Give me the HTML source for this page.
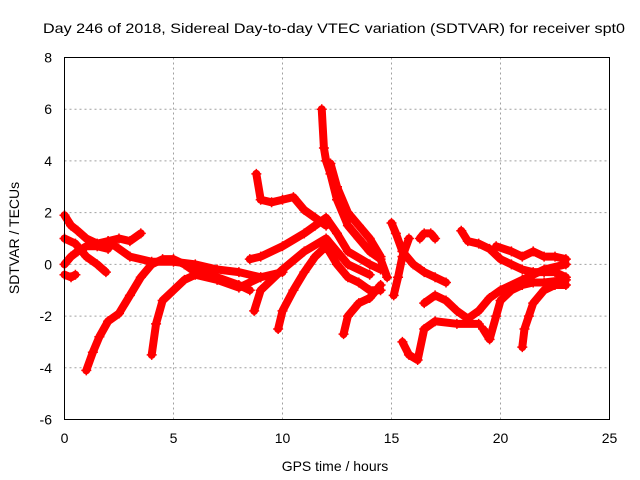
<!DOCTYPE html>
<html><head><meta charset="utf-8"><style>
html,body{margin:0;padding:0;background:#fff;}
svg{display:block;font-family:"Liberation Sans",sans-serif;}
</style></head><body>
<svg id="chart" width="640" height="480" viewBox="0 0 640 480" xmlns="http://www.w3.org/2000/svg">
<text x="334" y="33" font-size="14" text-anchor="middle" textLength="582" lengthAdjust="spacingAndGlyphs">Day 246 of 2018, Sidereal Day-to-day VTEC variation (SDTVAR) for receiver spt0</text>
<g id="grid"></g>
<g id="ticks"></g>
<g id="series"></g>
<rect x="64.5" y="57.5" width="545" height="362" fill="none" stroke="#000" stroke-width="1"/>
<text x="335" y="471" font-size="14" text-anchor="middle">GPS time / hours</text>
<text x="0" y="0" font-size="14" text-anchor="middle" transform="translate(19,238) rotate(-90)">SDTVAR / TECUs</text>
</svg>
<script>
const xTicks=[0,5,10,15,20,25];
const yTicks=[-6,-4,-2,0,2,4,6,8];
const tracks=[
[[0,1.9],[0.3,1.5],[0.6,1.3],[1,1.0],[1.5,0.8],[2,0.9],[2.5,1.0],[3,0.9],[3.5,1.2]],
[[0,0],[0.3,0.3],[0.6,0.5],[1,0.7],[1.5,0.7],[2,0.6]],
[[0,-0.4],[0.3,-0.5],[0.5,-0.4]],
[[0,1],[0.5,0.8],[1,0.3],[1.5,0],[1.9,-0.3]],
[[1,-4.1],[1.3,-3.4],[1.6,-2.8],[2,-2.2],[2.5,-1.9],[3,-1.2],[3.5,-0.5],[4,0],[4.5,0.2],[5,0.2],[5.5,0],[6,-0.3],[7,-0.5],[8,-0.8],[8.5,-1]],
[[4,-3.5],[4.2,-2.3],[4.5,-1.4],[5,-1],[5.5,-0.6],[6,-0.4],[7,-0.6],[8,-0.9],[9,-0.5]],
[[2,0.9],[3,0.3],[4,0.1],[5,0.1],[6,0],[7,-0.2],[8,-0.3],[9,-0.5],[10,-0.3]],
[[8.7,-1.8],[9,-1],[10,-0.2],[11,0.5],[12,1],[12.5,0.5],[13,0],[14,-0.4]],
[[8.8,3.5],[9,2.5],[9.5,2.4],[10,2.5],[10.5,2.6],[11,2.1],[11.5,1.8],[12,1.5]],
[[8.5,0.2],[9,0.3],[10,0.7],[11,1.2],[11.5,1.5],[12,1.8],[12.5,1.2],[13,0.5],[14,0],[14.5,-0.2]],
[[9.8,-2.5],[10,-1.8],[10.5,-1],[11,-0.3],[11.5,0.3],[12,0.7],[12.5,0],[13,-0.5],[13.5,-0.7],[14,-1],[14.5,-1]],
[[11.8,6],[11.9,4.5],[12,4],[12.2,3.5],[12.5,2.5],[13,1.5],[13.5,1],[14,0.5],[14.5,0.2],[14.8,-0.5]],
[[12.2,3.9],[12.5,3],[13,2],[13.5,1.5],[14,1],[14.5,0.3]],
[[12.8,-2.7],[13,-2],[13.5,-1.5],[14,-1.3],[14.5,-0.8]],
[[15,1.6],[15.2,1.2],[15.5,0.5],[16,0],[16.5,-0.3],[17,-0.5],[17.5,-0.7]],
[[15.1,-1.2],[15.3,-0.5],[15.5,0.3],[15.8,1]],
[[15.5,-3],[15.8,-3.5],[16.2,-3.7],[16.5,-2.5],[17,-2.2],[18,-2.3],[19,-2.3]],
[[16.3,1],[16.5,1.2],[16.8,1.2],[17,1.0]],
[[16.5,-1.5],[17,-1.2],[17.5,-1.4],[18,-1.8],[18.5,-2.1],[19,-1.8],[19.5,-1.3],[20,-1],[21,-0.6],[22,-0.2],[23,0]],
[[18.2,1.3],[18.5,0.9],[19,0.8],[19.5,0.6],[20,0.2],[20.5,0],[21,-0.2],[21.5,-0.3],[22,-0.3],[22.5,-0.3],[23,-0.5]],
[[19.2,-2.5],[19.5,-2.9],[19.8,-2],[20,-1.4],[20.5,-1],[21,-0.8],[21.5,-0.7],[22,-0.7],[23,-0.6]],
[[19.8,0.7],[20.5,0.5],[21,0.3],[21.5,0.5],[22,0.3],[22.5,0.3],[23,0.2]],
[[21,-3.2],[21.1,-2.5],[21.3,-2],[21.5,-1.5],[22,-1],[22.5,-0.8],[23,-0.8]]
];
const X0=64.5,X1=609.5,Y0=419.5,Y1=57.5;
const sx=v=>X0+(v-0)/(25-0)*(X1-X0);
const sy=v=>Y0-(v-(-6))/(8-(-6))*(Y0-Y1);
const NS="http://www.w3.org/2000/svg";
const grid=document.getElementById('grid'),ticks=document.getElementById('ticks'),ser=document.getElementById('series');
function mk(tag,attrs,parent){const e=document.createElementNS(NS,tag);for(const k in attrs)e.setAttribute(k,attrs[k]);parent.appendChild(e);return e;}
xTicks.forEach(t=>{
  const x=sx(t);
  if(t>0&&t<25){const l=mk('line',{x1:x,x2:x,y1:Y0,y2:Y1,stroke:'#a0a0a0','stroke-dasharray':'2,3'},grid);
  
  }
  const tx=mk('text',{x:x,y:443,'font-size':14,'text-anchor':'middle'},ticks);
  tx.textContent=t;
  
  
});
yTicks.forEach(t=>{
  const y=sy(t);
  if(t>-6&&t<8){const l=mk('line',{x1:X0,x2:X1,y1:y,y2:y,stroke:'#a0a0a0','stroke-dasharray':'2,3'},grid);
  
  }
  const tx=mk('text',{x:52,y:y+5,'font-size':14,'text-anchor':'end'},ticks);
  tx.textContent=t;
  
  
});
tracks.forEach((tr,i)=>{
  const p=mk('polyline',{points:tr.map(d=>sx(d[0])+','+sy(d[1])).join(' '),fill:'none',stroke:'#ff0000','stroke-width':8,'stroke-linejoin':'round','stroke-linecap':'round'},ser);
  
  
  tr.forEach(d=>{
    const x=sx(d[0]),y=sy(d[1]);
    const m=mk('path',{d:`M${x-5},${y}H${x+5}M${x},${y-5}V${y+5}`,stroke:'#ff0000','stroke-width':1.5},ser);
    
    
  });
});
</script>
</body></html>
